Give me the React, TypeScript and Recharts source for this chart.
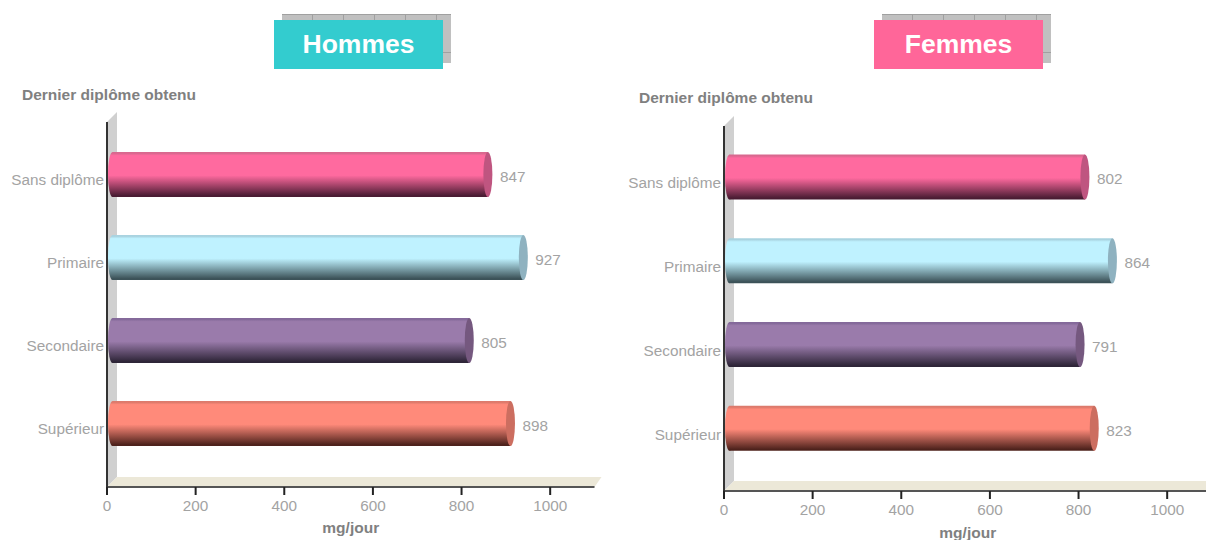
import React from 'react';
import { BarChart, Bar, XAxis, YAxis, LabelList, ReferenceArea } from 'recharts';

const categories = ['Sans diplôme', 'Primaire', 'Secondaire', 'Supérieur'];
const hommesValues = [847, 927, 805, 898];
const femmesValues = [802, 864, 791, 823];
const xTicks = [0, 200, 400, 600, 800, 1000];

// one colour set per category: body, top edge, dark bottom, end cap
const bodyColors = ['#ff6a9f', '#bff2ff', '#9a7bab', '#ff8a7a'];
const edgeColors = ['#d9688f', '#a9d3e0', '#84699a', '#dd7a6c'];
const darkColors = ['#4a1c33', '#3c5258', '#2e2538', '#4e221c'];
const capColors = ['#bf5580', '#8fb2c0', '#75587f', '#cc6e60'];

const DEPTH = 10;
const FONT = '"Liberation Sans", Arial, sans-serif';
const TEXT_GREY = '#a3a3a3';

const Cylinder = ({ x, y, width, height, index, prefix }: any) => {
  const shift = 5.5;
  const rx = 4.5;
  const left = x + shift;
  const top = y - shift;
  const cy = top + height / 2;
  const ry = height / 2;
  return (
    <g>
      <ellipse cx={left} cy={cy} rx={rx} ry={ry} fill={`url(#${prefix}-cyl-${index})`} />
      <rect x={left} y={top} width={width} height={height} fill={`url(#${prefix}-cyl-${index})`} />
      <ellipse cx={left + width} cy={cy} rx={rx} ry={ry} fill={capColors[index]} />
    </g>
  );
};

// side wall and floor of the fake 3D box; the rect it gets stops at the axis padding
const Box3D = ({ x, y, width, height, pad }: any) => {
  const top = y - pad;
  const bottom = y + height + pad;
  const right = x + width;
  return (
    <g>
      <polygon
        points={`${x},${top} ${x + DEPTH},${top - DEPTH} ${x + DEPTH},${bottom - DEPTH} ${x},${bottom}`}
        fill="#d0d0d0"
        fillOpacity={1}
      />
      <polygon
        points={`${x},${bottom} ${x + DEPTH},${bottom - DEPTH} ${right + 7},${bottom - DEPTH} ${right},${bottom}`}
        fill="#ece8d8"
        fillOpacity={1}
      />
    </g>
  );
};

const ValueLabel = ({ x, y, width, height, value }: any) => (
  <text x={x + width + 17.5} y={y + height / 2 - 3.5} dy="0.35em" fill={TEXT_GREY} fontSize={15.3} fontFamily={FONT}>
    {value}
  </text>
);

const TitleBadge = ({ left, text, color }: { left: number; text: string; color: string }) => (
  <>
    <div
      style={{
        position: 'absolute',
        left: left + 8,
        top: 14,
        width: 169,
        height: 49,
        backgroundColor: '#c0c0c0',
        backgroundImage:
          'linear-gradient(to right, #a0a0a0 1px, transparent 1px), linear-gradient(to bottom, #a0a0a0 1px, transparent 1px)',
        backgroundSize: '31px 38px',
        backgroundPosition: '30px 0',
      }}
    />
    <div
      style={{
        position: 'absolute',
        left,
        top: 20,
        width: 169,
        height: 49,
        lineHeight: '49px',
        background: color,
        color: '#fff',
        fontFamily: FONT,
        fontWeight: 700,
        fontSize: 26.5,
        textAlign: 'center',
      }}
    >
      {text}
    </div>
  </>
);

interface PanelProps {
  id: string;
  values: number[];
  left: number;
  axisX: number;
  plotTop: number;
  pad: number;
  titleX: number;
  titleY: number;
  unitOffset: number;
}

const PLOT_W = 487.5;
const PLOT_H = 365;
const CHART_W = 606;
const CHART_H = 540;

const Panel = ({ id, values, left, axisX, plotTop, pad, titleX, titleY, unitOffset }: PanelProps) => {
  const data = categories.map((name, i) => ({ name, value: values[i] }));
  const tickStyle = { fill: TEXT_GREY, fontSize: 15.3, fontFamily: FONT };
  return (
    <div style={{ position: 'absolute', left, top: 0 }}>
      <BarChart
        layout="vertical"
        width={CHART_W}
        height={CHART_H}
        data={data}
        margin={{ top: plotTop, left: 0, right: CHART_W - axisX - PLOT_W, bottom: 0 }}
      >
        <defs>
          {categories.map((_, i) => (
            <linearGradient key={i} id={`${id}-cyl-${i}`} x1="0" y1="0" x2="0" y2="1">
              <stop offset="0%" stopColor={edgeColors[i]} />
              <stop offset="3%" stopColor={edgeColors[i]} />
              <stop offset="8%" stopColor={bodyColors[i]} />
              <stop offset="52%" stopColor={bodyColors[i]} />
              <stop offset="97%" stopColor={darkColors[i]} />
              <stop offset="100%" stopColor={darkColors[i]} />
            </linearGradient>
          ))}
        </defs>
        <ReferenceArea x1={0} x2={1100} ifOverflow="visible" fillOpacity={1} shape={<Box3D pad={pad} />} />
        <XAxis
          type="number"
          domain={[0, 1100]}
          ticks={xTicks}
          allowDataOverflow
          stroke="#555"
          strokeWidth={2}
          tickSize={8}
          tickMargin={5}
          tick={tickStyle}
          tickLine={{ stroke: '#222', strokeWidth: 2 }}
          height={CHART_H - plotTop - PLOT_H}
          label={{
            value: 'mg/jour',
            position: 'insideBottom',
            offset: unitOffset,
            fill: '#808080',
            fontSize: 15.5,
            fontWeight: 700,
            fontFamily: FONT,
          }}
        />
        <YAxis
          type="category"
          dataKey="name"
          width={axisX}
          padding={{ top: pad, bottom: pad }}
          stroke="#333"
          strokeWidth={2}
          tickLine={false}
          tickMargin={3}
          tickSize={0}
          interval={0}
          tick={tickStyle}
        />
        <Bar
          dataKey="value"
          barSize={45}
          isAnimationActive={false}
          shape={(p: any) => <Cylinder {...p} prefix={id} />}
        >
          <LabelList dataKey="value" content={<ValueLabel />} />
        </Bar>
        <text x={titleX} y={titleY} fill="#808080" fontSize={15.5} fontWeight={700} fontFamily={FONT}>
          Dernier diplôme obtenu
        </text>
      </BarChart>
    </div>
  );
};

export default function App() {
  return (
    <div
      style={{
        position: 'absolute',
        left: 0,
        top: 0,
        width: 1206,
        height: 540,
        overflow: 'hidden',
        background: '#fff',
      }}
    >
      <Panel id="h" values={hommesValues} left={0} axisX={107} plotTop={122} pad={16.5} titleX={22} titleY={100} unitOffset={7} />
      <Panel id="f" values={femmesValues} left={616} axisX={108} plotTop={126} pad={15} titleX={23} titleY={103} unitOffset={2} />
      <TitleBadge left={274} text="Hommes" color="#33cccf" />
      <TitleBadge left={874} text="Femmes" color="#ff6699" />
    </div>
  );
}
